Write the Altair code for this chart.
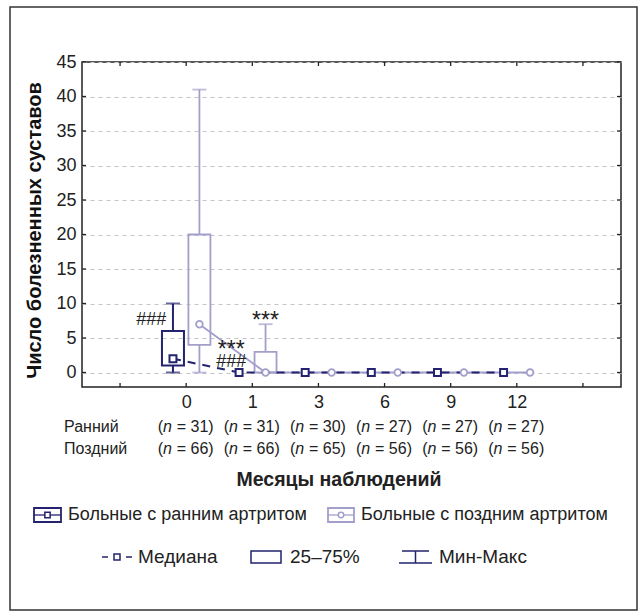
import altair as alt
import pandas as pd

# ---------------- data ----------------
months = ["0", "1", "3", "6", "9", "12"]
early_median = [2, 0, 0, 0, 0, 0]
early_q1 = [1, 0, 0, 0, 0, 0]
early_q3 = [6, 0, 0, 0, 0, 0]
early_min = [0, 0, 0, 0, 0, 0]
early_max = [10, 0, 0, 0, 0, 0]
late_median = [7, 0, 0, 0, 0, 0]
late_q1 = [4, 0, 0, 0, 0, 0]
late_q3 = [20, 3, 0, 0, 0, 0]
late_min = [0, 0, 0, 0, 0, 0]
late_max = [41, 7, 0, 0, 0, 0]
early_n = [31, 31, 30, 27, 27, 27]
late_n = [66, 66, 65, 56, 56, 56]
y_ticks = [0, 5, 10, 15, 20, 25, 30, 35, 40, 45]
hash_x = [0.47, 1.68]
hash_y = [7.6, 1.5]
star_x = [1.68, 2.2]
star_y = [4.1, 8.4]

NAVY = "#23236f"
LIGHT = "#a29fcb"
FONT = "Liberation Sans"
W, H = 539, 325

groups = []
for g, off, med, q1, q3, mn, mx in [
    ("early", -0.2, early_median, early_q1, early_q3, early_min, early_max),
    ("late", 0.2, late_median, late_q1, late_q3, late_min, late_max),
]:
    for i, m in enumerate(months):
        groups.append(dict(group=g, month=m, pos=i + 1 + off, median=med[i],
                           q1=q1[i], q3=q3[i], mn=mn[i], mx=mx[i]))
df = pd.DataFrame(groups)
early = df[df.group == "early"]
late = df[df.group == "late"]

xscale = alt.Scale(domain=[-0.5, 7.5], nice=False, zero=False)
yscale = alt.Scale(domain=[-2.1, 45], nice=False, zero=False)
tick_labels = "['', '0', '1', '3', '6', '9', '12', ''][datum.value]"
xaxis = alt.Axis(values=list(range(8)), labelExpr=tick_labels, ticks=False, domain=False,
                 grid=False, title=None, labelFontSize=18, labelFont=FONT, labelColor="#222",
                 labelPadding=6)
yaxis = alt.Axis(values=y_ticks, ticks=False, domain=False, grid=True, gridDash=[4, 4],
                 gridColor="#c4c4c4", gridWidth=1, labelFontSize=18, labelFont=FONT,
                 labelColor="#222", labelPadding=6, title="Число болезненных суставов",
                 titleFont=FONT, titleFontSize=20, titleFontWeight="bold", titleColor="#111",
                 titleX=-48, titleY=168, titleBaseline="middle", titleAlign="center",
                 titleAngle=270)


def X(f):
    return alt.X(f, type="quantitative", scale=xscale, axis=xaxis)


def Y(f):
    return alt.Y(f, type="quantitative", scale=yscale, axis=yaxis)


layers = []

# inward ticks
ytdf = pd.DataFrame({"v": y_ticks})
xtdf = pd.DataFrame({"v": list(range(8))})
layers.append(alt.Chart(ytdf).mark_rule(color="#222", strokeWidth=1.3).encode(
    y=Y("v"), x=alt.value(0), x2=alt.value(4)))
layers.append(alt.Chart(ytdf).mark_rule(color="#222", strokeWidth=1.3).encode(
    y=Y("v"), x=alt.value(W - 4), x2=alt.value(W)))
layers.append(alt.Chart(xtdf).mark_rule(color="#222", strokeWidth=1.3).encode(
    x=X("v"), y=alt.value(0), y2=alt.value(4)))
layers.append(alt.Chart(xtdf).mark_rule(color="#222", strokeWidth=1.3).encode(
    x=X("v"), y=alt.value(H - 4), y2=alt.value(H)))

for sub, col, sw in [(early, NAVY, 2), (late, LIGHT, 1.8)]:
    boxes = sub[sub.q3 > sub.q1]
    lo = sub[sub.mn < sub.q1]
    hi = sub[sub.mx > sub.q3]
    layers.append(alt.Chart(boxes).mark_bar(size=22, fill="transparent", stroke=col,
                                            strokeWidth=sw).encode(
        x=X("pos"), y=Y("q1"), y2="q3"))
    layers.append(alt.Chart(lo).mark_rule(color=col, strokeWidth=sw).encode(
        x=X("pos"), y=Y("mn"), y2="q1"))
    layers.append(alt.Chart(hi).mark_rule(color=col, strokeWidth=sw).encode(
        x=X("pos"), y=Y("q3"), y2="mx"))
    layers.append(alt.Chart(lo).mark_tick(orient="horizontal", size=14, thickness=sw,
                                          color=col).encode(x=X("pos"), y=Y("mn")))
    layers.append(alt.Chart(hi).mark_tick(orient="horizontal", size=14, thickness=sw,
                                          color=col).encode(x=X("pos"), y=Y("mx")))

layers.append(alt.Chart(late).mark_line(color=LIGHT, strokeWidth=1.8).encode(
    x=X("pos"), y=Y("median"), order="pos:Q"))
layers.append(alt.Chart(early).mark_line(color=NAVY, strokeWidth=2, strokeDash=[8, 7]).encode(
    x=X("pos"), y=Y("median"), order="pos:Q"))
layers.append(alt.Chart(early).mark_point(shape="square", size=48, fill="white", filled=True,
                                          stroke=NAVY, strokeWidth=2, opacity=1).encode(
    x=X("pos"), y=Y("median")))
layers.append(alt.Chart(late).mark_point(shape="circle", size=44, fill="white", filled=True,
                                         stroke=LIGHT, strokeWidth=1.8, opacity=1).encode(
    x=X("pos"), y=Y("median")))

hdf = pd.DataFrame({"x": hash_x, "y": hash_y})
sdf = pd.DataFrame({"x": star_x, "y": star_y})
layers.append(alt.Chart(hdf).mark_text(text="###", font=FONT, fontSize=18, color="#222",
                                       baseline="middle").encode(x=X("x"), y=Y("y")))
layers.append(alt.Chart(sdf).mark_text(text="***", font=FONT, fontSize=23, color="#222",
                                       baseline="alphabetic", dy=13).encode(
    x=X("x"), y=Y("y")))

# n rows
NB = "\u00a0"
ndf = pd.DataFrame({"x": list(range(1, 7)),
                    "e": [f"={NB}{v})" for v in early_n],
                    "l": [f"={NB}{v})" for v in late_n]})
for col_name, yy in [("e", 365), ("l", 387)]:
    base = alt.Chart(ndf)
    layers.append(base.mark_text(font=FONT, fontSize=16, color="#222", align="left",
                                 baseline="middle", dx=-28.5, text="(").encode(
        x=X("x"), y=alt.value(yy)))
    layers.append(base.mark_text(font=FONT, fontSize=16, color="#222", align="left",
                                 baseline="middle", dx=-23.2, fontStyle="italic",
                                 text="n").encode(x=X("x"), y=alt.value(yy)))
    layers.append(base.mark_text(font=FONT, fontSize=16, color="#222", align="left",
                                 baseline="middle", dx=-9.5).encode(
        x=X("x"), y=alt.value(yy), text=f"{col_name}:N"))

one = pd.DataFrame({"d": [0]})


def txt(s, x, y, size=16, weight="normal", align="left"):
    return alt.Chart(one).mark_text(text=s, font=FONT, fontSize=size, fontWeight=weight,
                                    color="#222", align=align, baseline="middle").encode(
        x=alt.value(x), y=alt.value(y))


def rect(x1, x2, y1, y2, col, sw=1.5):
    return alt.Chart(one).mark_rect(fill="transparent", stroke=col, strokeWidth=sw).encode(
        x=alt.value(x1), x2=alt.value(x2), y=alt.value(y1), y2=alt.value(y2))


def rule(x1, x2, y1, y2, col, sw=1.5):
    return alt.Chart(one).mark_rule(color=col, strokeWidth=sw).encode(
        x=alt.value(x1), x2=alt.value(x2), y=alt.value(y1), y2=alt.value(y2))


def pt(shape, x, y, col, sw=1.5, size=30):
    return alt.Chart(one).mark_point(shape=shape, size=size, fill="white", filled=True,
                                     stroke=col, strokeWidth=sw, opacity=1).encode(
        x=alt.value(x), y=alt.value(y))


layers += [
    txt("Ранний", -18, 365),
    txt("Поздний", -18, 387),
    txt("Месяцы наблюдений", 257, 418, size=19.5, weight="bold", align="center"),
    # legend row 1
    rect(-48, -21, 446, 460, NAVY, 1.8),
    rule(-48, -21, 453, 453, NAVY, 1.3),
    pt("square", -34.5, 453, NAVY, 1.5, 28),
    txt("Больные с ранним артритом", -14, 453, size=18),
    rect(246, 272, 446, 460, LIGHT, 1.8),
    rule(246, 272, 453, 453, LIGHT, 1.3),
    pt("circle", 259, 453, LIGHT, 1.5, 30),
    txt("Больные с поздним артритом", 279, 453, size=18),
    # legend row 2
    rule(20, 26, 495, 495, NAVY, 1.5),
    rule(44, 50, 495, 495, NAVY, 1.5),
    pt("square", 35, 495, NAVY, 1.5, 36),
    txt("Медиана", 56, 495, size=19),
    rect(169, 199, 489, 501, NAVY, 1.5),
    txt("25–75%", 208, 495, size=19),
    rule(320, 347, 489, 489, NAVY, 1.5),
    rule(317, 350, 501, 501, NAVY, 1.5),
    rule(333.5, 333.5, 489, 501, NAVY, 1.5),
    txt("Мин-Макс", 357, 495, size=19),
    # outer border
    rect(-72, 555, -55, 548, "#333", 1.5),
]

chart = alt.layer(*layers).properties(
    width=W, height=H,
    autosize=alt.AutoSizeParams(type="none"),
    padding={"left": 82, "top": 62, "right": 18, "bottom": 224},
    background="white",
).configure_view(stroke="#222", strokeWidth=1.5)

chart.save("out.html", embed_options={"renderer": "svg", "actions": False})
